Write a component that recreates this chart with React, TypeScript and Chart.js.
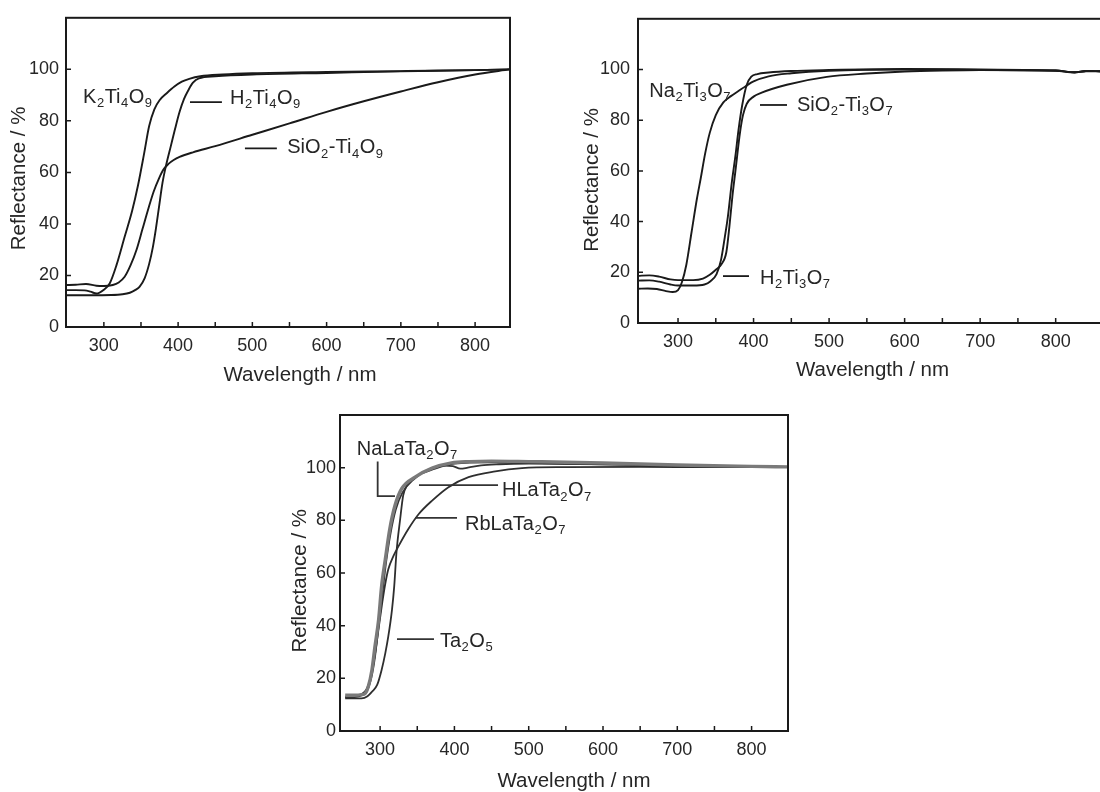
import React, { useEffect, useRef } from "react";
import { Chart, registerables } from "chart.js";

Chart.register(...registerables);

// ---------------- Data ----------------
const xTickLabels = [300, 400, 500, 600, 700, 800];
const xTickMarks = [300, 350, 400, 450, 500, 550, 600, 650, 700, 750, 800];
const yTickLabels = [0, 20, 40, 60, 80, 100];

// Panel A : K2Ti4O9 / H2Ti4O9 / SiO2-Ti4O9
const k2ti4o9Nm = [249, 262, 274, 282, 290, 300, 308, 317, 328, 338, 346, 354, 361, 368, 375, 385, 395, 405, 415, 430, 460, 500, 600, 700, 800, 847];
const k2ti4o9R = [14.3, 14.3, 14.2, 13.7, 13.0, 14.5, 17.0, 24.0, 35.0, 45.0, 55.0, 67.0, 78.0, 84.5, 88.0, 90.8, 93.3, 95.2, 96.3, 97.3, 98.0, 98.5, 99.0, 99.3, 99.7, 100.0];

const h2ti4o9Nm = [249, 280, 310, 325, 335, 342, 348, 355, 361, 366, 370, 374, 379, 384, 390, 396, 402, 408, 414, 420, 428, 450, 500, 600, 700, 800, 847];
const h2ti4o9R = [12.3, 12.3, 12.4, 12.7, 13.3, 14.3, 15.6, 19.0, 24.5, 31.0, 38.0, 46.0, 56.0, 63.0, 70.0, 77.0, 83.5, 88.5, 92.0, 94.8, 96.5, 97.3, 98.0, 98.6, 99.2, 99.7, 100.0];

const sio2ti4o9Nm = [249, 262, 276, 290, 300, 312, 320, 328, 336, 344, 352, 360, 367, 374, 380, 387, 394, 402, 420, 450, 500, 550, 600, 650, 700, 750, 800, 847];
const sio2ti4o9R = [16.3, 16.4, 16.7, 16.0, 15.9, 16.3, 17.3, 19.5, 24.0, 30.0, 38.0, 46.0, 52.5, 57.5, 61.0, 63.3, 64.8, 66.0, 67.8, 70.2, 74.6, 79.0, 83.5, 87.6, 91.4, 95.0, 98.0, 100.0];

// Panel B : Na2Ti3O7 / H2Ti3O7 / SiO2-Ti3O7
const na2ti3o7Nm = [247, 260, 272, 284, 293, 300, 305, 311, 318, 325, 330, 336, 342, 350, 360, 370, 380, 390, 400, 420, 450, 500, 600, 700, 800, 825, 840, 860];
const na2ti3o7R = [13.5, 13.6, 13.4, 12.6, 12.2, 13.0, 16.0, 23.0, 36.0, 49.0, 57.0, 67.0, 75.0, 82.0, 87.0, 89.5, 91.5, 93.5, 95.3, 97.3, 98.5, 99.5, 100.0, 99.8, 99.5, 98.8, 99.3, 99.2];

const h2ti3o7Nm = [247, 262, 275, 290, 300, 320, 335, 343, 351, 357, 362, 366, 371, 376, 380, 385, 391, 397, 405, 420, 450, 500, 600, 700, 800, 825, 840, 860];
const h2ti3o7R = [16.7, 16.8, 16.3, 15.2, 14.8, 14.8, 15.2, 16.5, 19.3, 25.0, 34.0, 42.0, 55.0, 66.0, 76.0, 86.0, 94.0, 97.2, 98.2, 98.8, 99.4, 99.8, 100.2, 100.0, 99.6, 98.9, 99.4, 99.3];

const sio2ti3o7Nm = [247, 262, 275, 290, 300, 320, 333, 342, 350, 357, 364, 368, 372, 376, 382, 386, 391, 400, 410, 444, 497, 550, 600, 650, 700, 800, 825, 840, 860];
const sio2ti3o7R = [18.6, 18.8, 18.3, 17.2, 16.9, 16.9, 17.5, 19.0, 21.0, 23.0, 28.0, 38.0, 50.0, 60.0, 75.0, 82.0, 86.5, 89.3, 90.8, 94.0, 97.1, 98.4, 99.2, 99.6, 99.8, 99.6, 98.9, 99.4, 99.3];

// Panel C : NaLaTa2O7 / HLaTa2O7 / RbLaTa2O7 / Ta2O5
const nalata2o7Nm = [253, 265, 275, 280, 284, 289, 293, 298, 302, 307, 313, 320, 329, 347, 370, 396, 420, 450, 500, 600, 700, 800, 849];
const nalata2o7R = [13.6, 13.6, 13.8, 14.3, 16.8, 23.2, 32.0, 42.3, 55.0, 65.2, 76.7, 85.6, 92.0, 96.4, 99.8, 101.8, 102.3, 102.5, 102.3, 101.8, 101.0, 100.5, 100.3];

const hlata2o7Nm = [253, 265, 275, 282, 288, 293, 298, 303, 308, 314, 321, 330, 345, 365, 385, 398, 408, 418, 436, 460, 500, 600, 700, 800, 849];
const hlata2o7R = [12.8, 12.9, 13.5, 15.0, 20.0, 28.0, 40.0, 52.0, 64.0, 75.0, 84.0, 90.5, 95.5, 99.3, 100.8, 100.6, 99.6, 100.0, 100.9, 101.3, 101.5, 101.3, 100.8, 100.4, 100.3];

const rblata2o7Nm = [253, 265, 275, 282, 288, 293, 298, 303, 307, 311, 318, 325, 338, 352, 370, 392, 419, 455, 491, 550, 650, 750, 849];
const rblata2o7R = [13.0, 13.2, 14.0, 16.0, 21.0, 29.0, 39.0, 49.0, 56.0, 61.4, 66.5, 70.3, 76.7, 82.4, 87.5, 92.6, 96.4, 98.6, 99.8, 100.2, 100.3, 100.2, 100.2];

const ta2o5Nm = [253, 265, 275, 283, 289, 296, 302, 307, 311, 316, 319, 322, 327, 331, 336, 347, 374, 400, 450, 500, 600, 700, 800, 849];
const ta2o5R = [12.4, 12.4, 12.4, 13.2, 14.9, 17.5, 23.2, 29.6, 35.9, 46.1, 55.0, 67.8, 80.5, 89.4, 93.2, 96.4, 99.6, 101.5, 102.0, 101.8, 101.3, 100.8, 100.4, 100.2];

const xTitle = "Wavelength / nm";
const yTitle = "Reflectance / %";

// ---------------- Styling / layout ----------------
const FONT = "'Liberation Sans', Arial, Helvetica, sans-serif";
const INK = "#1a1a1a";
const TEXT = "#262626";

type Series = { label: string; nm: number[]; r: number[]; color: string; width: number };
type Label = { text: string; x: number; y: number; leader?: number[][] };
type Panel = {
  id: string;
  left: number; top: number; width: number; height: number;
  area: { left: number; top: number; right: number; bottom: number };
  xMin: number; xMax: number;
  series: Series[];
  labels: Label[];
  yPad: number;
  xTitleDx: number; xTitleDy: number;
  yTitleDx: number; yTitleDy: number;
  leaderColor: string;
};

const panels: Panel[] = [
  {
    id: "a", left: 0, top: 0, width: 540, height: 390,
    area: { left: 66, top: 15, right: 510, bottom: 327 },
    xMin: 249, xMax: 847,
    series: [
      { label: "K₂Ti₄O₉", nm: k2ti4o9Nm, r: k2ti4o9R, color: INK, width: 1.9 },
      { label: "H₂Ti₄O₉", nm: h2ti4o9Nm, r: h2ti4o9R, color: INK, width: 1.9 },
      { label: "SiO₂-Ti₄O₉", nm: sio2ti4o9Nm, r: sio2ti4o9R, color: INK, width: 1.9 },
    ],
    labels: [
      { text: "K₂Ti₄O₉", x: 272, y: 86.9 },
      { text: "H₂Ti₄O₉", x: 470, y: 86.7, leader: [[416, 87.3], [459, 87.3]] },
      { text: "SiO₂-Ti₄O₉", x: 547, y: 67.4, leader: [[490, 69.3], [533, 69.3]] },
    ],
    yPad: 7, xTitleDx: 12, xTitleDy: 54, yTitleDx: -46.5, yTitleDy: 6,
    leaderColor: INK,
  },
  {
    id: "b", left: 560, top: 0, width: 560, height: 390,
    area: { left: 78, top: 12, right: 541, bottom: 323 },
    xMin: 247, xMax: 860,
    series: [
      { label: "Na₂Ti₃O₇", nm: na2ti3o7Nm, r: na2ti3o7R, color: INK, width: 1.9 },
      { label: "H₂Ti₃O₇", nm: h2ti3o7Nm, r: h2ti3o7R, color: INK, width: 1.9 },
      { label: "SiO₂-Ti₃O₇", nm: sio2ti3o7Nm, r: sio2ti3o7R, color: INK, width: 1.9 },
    ],
    labels: [
      { text: "Na₂Ti₃O₇", x: 262, y: 89.2 },
      { text: "SiO₂-Ti₃O₇", x: 457.5, y: 83.7, leader: [[408.5, 86], [444.3, 86]] },
      { text: "H₂Ti₃O₇", x: 408.5, y: 15.4, leader: [[359.5, 18.5], [394, 18.5]] },
    ],
    yPad: 8, xTitleDx: 3, xTitleDy: 53, yTitleDx: -45.5, yTitleDy: 9,
    leaderColor: INK,
  },
  {
    id: "c", left: 270, top: 390, width: 540, height: 402,
    area: { left: 70, top: 25, right: 518, bottom: 341 },
    xMin: 246, xMax: 849,
    series: [
      { label: "NaLaTa₂O₇", nm: nalata2o7Nm, r: nalata2o7R, color: "#7a7a7a", width: 3.4 },
      { label: "HLaTa₂O₇", nm: hlata2o7Nm, r: hlata2o7R, color: "#333333", width: 1.8 },
      { label: "RbLaTa₂O₇", nm: rblata2o7Nm, r: rblata2o7R, color: "#2e2e2e", width: 1.8 },
      { label: "Ta₂O₅", nm: ta2o5Nm, r: ta2o5R, color: "#2e2e2e", width: 1.8 },
    ],
    labels: [
      { text: "NaLaTa₂O₇", x: 268.5, y: 104.8, leader: [[296.7, 102.3], [296.7, 89.2], [320, 89.2]] },
      { text: "HLaTa₂O₇", x: 464, y: 89.2, leader: [[352.3, 93.4], [458.7, 93.4]] },
      { text: "RbLaTa₂O₇", x: 414.2, y: 76.3, leader: [[347, 80.9], [403.5, 80.9]] },
      { text: "Ta₂O₅", x: 380.6, y: 31.9, leader: [[322.7, 34.9], [372.5, 34.9]] },
    ],
    yPad: 4, xTitleDx: 10, xTitleDy: 56, yTitleDx: -39.2, yTitleDy: 7.7,
    leaderColor: "#333333",
  },
];

const SUBS: Record<string, string> = {
  "₀": "0", "₁": "1", "₂": "2", "₃": "3", "₄": "4", "₅": "5", "₆": "6", "₇": "7", "₈": "8", "₉": "9",
};

function drawFormula(ctx: CanvasRenderingContext2D, text: string, x: number, y: number, size: number) {
  const runs: { s: string; sub: boolean }[] = [];
  for (const ch of Array.from(text)) {
    const sub = ch in SUBS;
    const c = sub ? SUBS[ch] : ch;
    const last = runs[runs.length - 1];
    if (last && last.sub === sub) last.s += c;
    else runs.push({ s: c, sub });
  }
  let cx = x;
  for (const run of runs) {
    if (run.sub) {
      ctx.font = `${Math.round(size * 0.66)}px ${FONT}`;
      ctx.fillText(run.s, cx + 0.5, y + size * 0.22);
      cx += ctx.measureText(run.s).width + 1;
    } else {
      ctx.font = `${size}px ${FONT}`;
      ctx.fillText(run.s, cx, y);
      cx += ctx.measureText(run.s).width;
    }
  }
}

function makeDecor(p: Panel) {
  return {
    id: "decor-" + p.id,
    afterDatasetsDraw(chart: any) {
      const { ctx, chartArea: a, scales } = chart;
      const xs = scales.x;
      const ys = scales.y;
      ctx.save();
      ctx.strokeStyle = INK;
      ctx.lineWidth = 2;
      ctx.strokeRect(a.left, a.top, a.right - a.left, a.bottom - a.top);
      ctx.lineWidth = 1.5;
      ctx.beginPath();
      for (const v of xTickMarks) {
        const px = xs.getPixelForValue(v);
        ctx.moveTo(px, a.bottom);
        ctx.lineTo(px, a.bottom - 5);
      }
      for (const v of yTickLabels) {
        const py = ys.getPixelForValue(v);
        ctx.moveTo(a.left, py);
        ctx.lineTo(a.left + 5, py);
      }
      ctx.stroke();
      ctx.strokeStyle = p.leaderColor;
      ctx.lineWidth = 1.8;
      for (const lab of p.labels) {
        if (!lab.leader) continue;
        ctx.beginPath();
        lab.leader.forEach((pt, i) => {
          const px = xs.getPixelForValue(pt[0]);
          const py = ys.getPixelForValue(pt[1]);
          if (i === 0) ctx.moveTo(px, py);
          else ctx.lineTo(px, py);
        });
        ctx.stroke();
      }
      ctx.fillStyle = TEXT;
      ctx.textAlign = "left";
      ctx.textBaseline = "alphabetic";
      for (const lab of p.labels) {
        drawFormula(ctx, lab.text, xs.getPixelForValue(lab.x), ys.getPixelForValue(lab.y), 20);
      }
      ctx.font = `20.5px ${FONT}`;
      ctx.textAlign = "center";
      ctx.textBaseline = "alphabetic";
      ctx.fillText(xTitle, (a.left + a.right) / 2 + p.xTitleDx, a.bottom + p.xTitleDy);
      ctx.save();
      ctx.translate(a.left + p.yTitleDx, (a.top + a.bottom) / 2 + p.yTitleDy);
      ctx.rotate(-Math.PI / 2);
      ctx.textBaseline = "middle";
      ctx.fillText(yTitle, 0, 0);
      ctx.restore();
      ctx.restore();
    },
  };
}

function PanelChart({ p }: { p: Panel }) {
  const ref = useRef<HTMLCanvasElement | null>(null);
  useEffect(() => {
    if (!ref.current) return;
    const chart = new Chart(ref.current, {
      type: "line",
      data: {
        datasets: p.series.map((s) => ({
          label: s.label,
          data: s.nm.map((x, i) => ({ x, y: s.r[i] })),
          borderColor: s.color,
          borderWidth: s.width,
          pointRadius: 0,
          fill: false,
          cubicInterpolationMode: "monotone" as const,
        })),
      },
      options: {
        animation: false,
        responsive: false,
        devicePixelRatio: 1,
        layout: {
          padding: { left: 0, top: p.area.top, right: p.width - p.area.right, bottom: 0 },
        },
        plugins: { legend: { display: false }, tooltip: { enabled: false } },
        events: [],
        scales: {
          x: {
            type: "linear",
            min: p.xMin,
            max: p.xMax,
            grid: { display: false, drawTicks: false },
            border: { display: false },
            afterBuildTicks: (scale: any) => {
              scale.ticks = xTickLabels.map((v) => ({ value: v }));
            },
            afterFit: (scale: any) => {
              scale.height = p.height - p.area.bottom;
            },
            ticks: {
              autoSkip: false,
              maxRotation: 0,
              padding: 8,
              color: TEXT,
              font: { family: FONT, size: 18 },
              callback: (v: any) => String(v),
            },
          },
          y: {
            type: "linear",
            min: 0,
            max: 120,
            grid: { display: false, drawTicks: false },
            border: { display: false },
            afterBuildTicks: (scale: any) => {
              scale.ticks = yTickLabels.map((v) => ({ value: v }));
            },
            afterFit: (scale: any) => {
              scale.width = p.area.left;
            },
            ticks: {
              padding: p.yPad,
              color: TEXT,
              font: { family: FONT, size: 18 },
              callback: (v: any) => String(v),
            },
          },
        },
      },
      plugins: [makeDecor(p)],
    } as any);
    return () => chart.destroy();
  }, [p]);
  return (
    <canvas
      ref={ref}
      width={p.width}
      height={p.height}
      style={{ position: "absolute", left: p.left, top: p.top, width: p.width, height: p.height }}
    />
  );
}

export default function App() {
  return (
    <div
      style={{
        position: "fixed",
        left: 0,
        top: 0,
        width: 1100,
        height: 792,
        overflow: "hidden",
        background: "#ffffff",
      }}
    >
      {panels.map((p) => (
        <PanelChart key={p.id} p={p} />
      ))}
    </div>
  );
}
